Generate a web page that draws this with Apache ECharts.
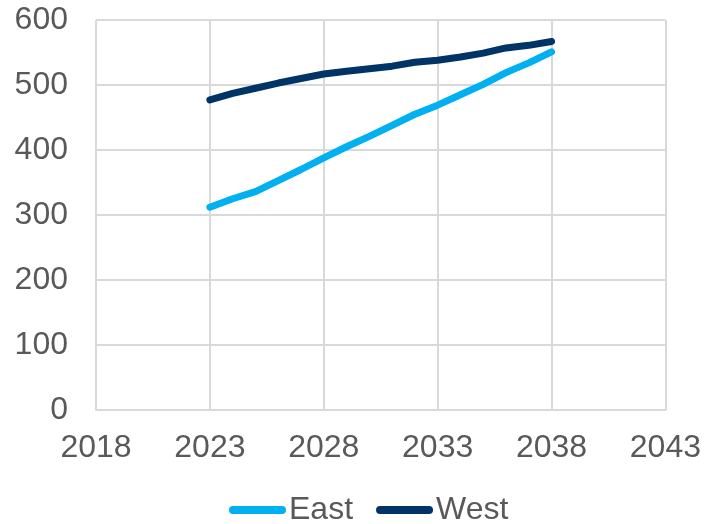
<!DOCTYPE html>
<html>
<head>
<meta charset="utf-8">
<script src="https://cdn.jsdelivr.net/npm/echarts@6/dist/echarts.min.js"></script>
<style>
  html, body { margin: 0; padding: 0; background: #fff; }
  #chart { width: 704px; height: 524px; }
</style>
</head>
<body>
<div id="chart"></div>
<script>
// Yearly projections, 2023–2038
const years = [2023, 2024, 2025, 2026, 2027, 2028, 2029, 2030, 2031, 2032, 2033, 2034, 2035, 2036, 2037, 2038];
const east  = [312, 325, 336, 353, 370, 388, 405, 421, 438, 455, 469, 485, 501, 519, 534, 551];
const west  = [477, 487, 495, 503, 510, 517, 521, 525, 529, 535, 538, 543, 549, 557, 561, 567];
const seriesNames = ['East', 'West'];
const seriesColors = ['#00B0F0', '#003366'];

const pairs = vals => years.map((y, i) => [y, vals[i]]);

const textColor = '#595959';
const gridColor = '#D9D9D9';
const font = 'Liberation Sans, Arial, sans-serif';

// rounded bar used as the legend key
const keyPath = 'path://M4,0 L53,0 A4,4 0 0 1 53,8 L4,8 A4,4 0 0 1 4,0 Z';

const chart = echarts.init(document.getElementById('chart'), null, { renderer: 'canvas' });
chart.setOption({
  animation: false,
  backgroundColor: '#ffffff',
  grid: { left: 96, right: 38, top: 20, bottom: 114 },
  legend: {
    top: 489,
    left: 224,
    itemWidth: 57,
    itemHeight: 8,
    itemGap: 23,
    textStyle: { color: textColor, fontSize: 32, fontFamily: font, padding: [0, 0, 0, -2] },
    data: seriesNames.map(n => ({ name: n, icon: keyPath }))
  },
  xAxis: {
    type: 'value',
    min: 2018,
    max: 2043,
    interval: 5,
    axisLine: { show: true, lineStyle: { color: gridColor, width: 2 } },
    axisTick: { show: false },
    axisLabel: { color: textColor, fontSize: 32, fontFamily: font, margin: 22, formatter: v => String(v) },
    splitLine: { show: true, lineStyle: { color: gridColor, width: 2 } }
  },
  yAxis: {
    type: 'value',
    min: 0,
    max: 600,
    interval: 100,
    axisLine: { show: false },
    axisTick: { show: false },
    axisLabel: { color: textColor, fontSize: 32, fontFamily: font, margin: 28 },
    splitLine: { show: true, lineStyle: { color: gridColor, width: 2 } }
  },
  series: [
    { name: seriesNames[0], type: 'line', data: pairs(east), showSymbol: false, symbol: 'none',
      lineStyle: { color: seriesColors[0], width: 7, cap: 'round', join: 'round' }, itemStyle: { color: seriesColors[0] } },
    { name: seriesNames[1], type: 'line', data: pairs(west), showSymbol: false, symbol: 'none',
      lineStyle: { color: seriesColors[1], width: 7, cap: 'round', join: 'round' }, itemStyle: { color: seriesColors[1] } }
  ]
});
</script>
</body>
</html>
